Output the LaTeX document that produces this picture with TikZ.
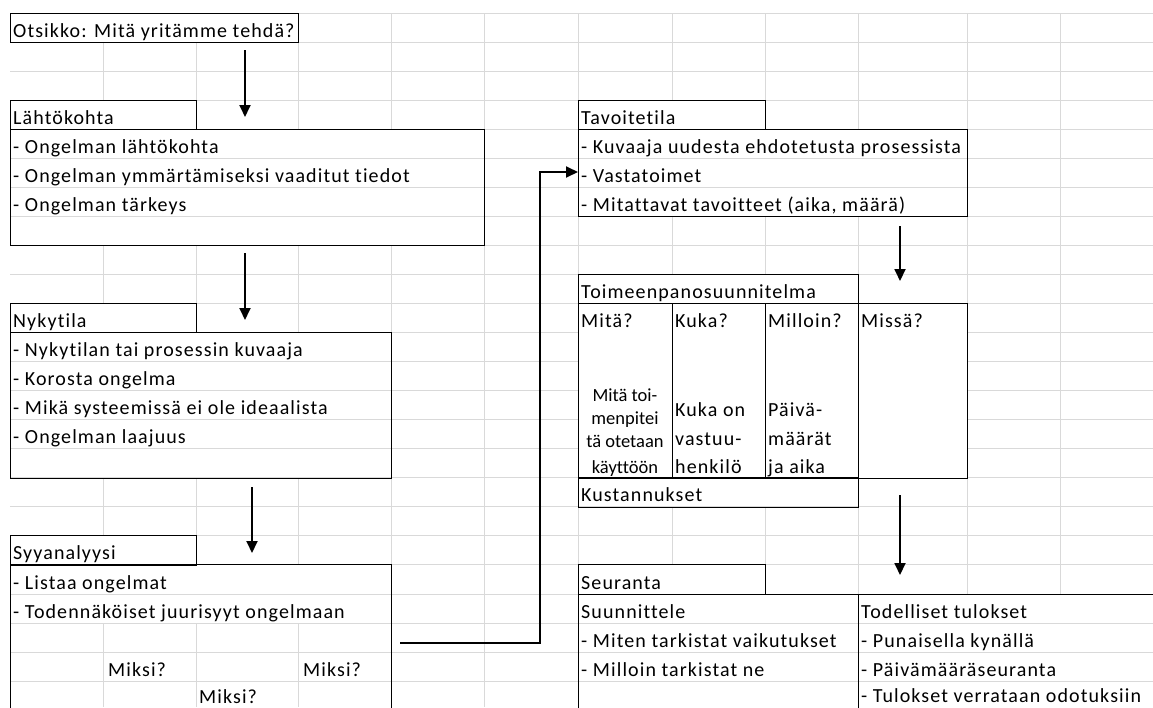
\documentclass[tikz,border=0pt]{standalone}
\usepackage{fontspec}
\setmainfont{Carlito}[Ligatures=NoCommon]
\newfontfamily\cellfont{Carlito}[LetterSpace=5.5, Ligatures=NoCommon]
\usetikzlibrary{arrows.meta, positioning, calc}

% y position of the i-th spreadsheet row line
\newcommand{\ry}[1]{13+29.05*#1}

\begin{document}
\begin{tikzpicture}[x=1pt, y=-1pt,
  grid/.style={draw=black!15, line width=1pt},
  cell/.style={fill=white, inner sep=0pt, anchor=north west,
               minimum height=29.05pt},
  edge/.style={draw=black, line width=1pt},
  txt/.style={anchor=base west, inner sep=0pt,
              font=\cellfont\fontsize{20}{24}\selectfont},
  narrow/.style={anchor=base, inner sep=0pt,
                 font=\fontsize{18.5}{22}\selectfont},
  flow/.style={-{Triangle[width=11pt,length=12pt]}, line width=1.8pt}
]
  \useasboundingbox[fill=white] (0,0) rectangle (1153,707);

  % Spreadsheet grid: columns
  \foreach \x in {103,196,298,391,484,578,672,765,858,967,1060,1153}
    \draw[grid] (\x,13) -- (\x,707);

  % Merged cells (hide the column lines)
  \node[cell, minimum width=288] (title) at (10,{\ry{0}}) {};
  \node[cell, minimum width=186] (lahtoh) at (10,{\ry{3}}) {};
  \node[cell, minimum width=474, minimum height=116.2] (lahto) at (10,{\ry{4}}) {};
  \node[cell, minimum width=186] (nykyh) at (10,{\ry{10}}) {};
  \node[cell, minimum width=381, minimum height=145.25] (nyky) at (10,{\ry{11}}) {};
  \node[cell, minimum width=186] (syyh) at (10,{\ry{18}}) {};
  \node[cell, minimum width=381, minimum height=58.1] (syytop) at (10,{\ry{19}}) {};
  \node[cell, fill=none, minimum width=381, minimum height=174.3] (syy) at (10,{\ry{19}}) {};
  \node[cell, minimum width=187] (tavoh) at (578,{\ry{3}}) {};
  \node[cell, minimum width=389, minimum height=87.15] (tavo) at (578,{\ry{4}}) {};
  \node[cell, minimum width=280] (toimh) at (578,{\ry{9}}) {};
  \node[cell, minimum width=280] (kust) at (578,{\ry{16}}) {};
  \node[cell, minimum width=187] (seurh) at (578,{\ry{19}}) {};
  \node[cell, minimum width=280, minimum height=145.25] (suun) at (578,{\ry{20}}) {};
  \node[cell, minimum width=295, minimum height=145.25] (todel) at (858,{\ry{20}}) {};

  % Spreadsheet grid: rows
  \foreach \i in {0,...,24}
    \draw[grid] (10,{\ry{\i}}) -- (1153,{\ry{\i}});

  % Plan table columns (hide the row lines)
  \node[cell, minimum width=94, minimum height=174.3] (mita) at (578,{\ry{10}}) {};
  \node[cell, minimum width=93, minimum height=174.3] (kuka) at (672,{\ry{10}}) {};
  \node[cell, minimum width=93, minimum height=174.3] (milloin) at (765,{\ry{10}}) {};
  \node[cell, minimum width=109, minimum height=174.3] (missa) at (858,{\ry{10}}) {};

  % Borders
  \foreach \b in {title,lahtoh,lahto,nykyh,nyky,syyh,syy,tavoh,tavo,toimh,
                  mita,kuka,milloin,missa,kust,seurh,suun,todel}
    \draw[edge] (\b.north west) rectangle (\b.south east);

  % Left column
  \node[txt] (t-title) at (13,{\ry{1}-5}) {Otsikko: Mitä yritämme tehdä?};
  \node[txt] (t-lahtoh) at (13,{\ry{4}-5}) {Lähtökohta};
  \foreach \t [count=\k from 5] in {- Ongelman lähtökohta,
      - Ongelman ymmärtämiseksi vaaditut tiedot, - Ongelman tärkeys}
    \node[txt] (t-lahto-\k) at (13,{\ry{\k}-5}) {\t};
  \node[txt] (t-nykyh) at (13,{\ry{11}-5}) {Nykytila};
  \foreach \t [count=\k from 12] in {- Nykytilan tai prosessin kuvaaja,
      - Korosta ongelma, - Mikä systeemissä ei ole ideaalista, - Ongelman laajuus}
    \node[txt] (t-nyky-\k) at (13,{\ry{\k}-5}) {\t};
  \node[txt] (t-syyh) at (13,{\ry{19}-5}) {Syyanalyysi};
  \foreach \t [count=\k from 20] in {- Listaa ongelmat,
      - Todennäköiset juurisyyt ongelmaan}
    \node[txt] (t-syy-\k) at (13,{\ry{\k}-5}) {\t};
  \node[txt] (miksi-1) at (108,{\ry{23}-5}) {Miksi?};
  \node[txt] (miksi-2) at (303,{\ry{23}-5}) {Miksi?};
  \node[txt] (miksi-3) at (199,703) {Miksi?};

  % Right column
  \node[txt] (t-tavoh) at (581,{\ry{4}-5}) {Tavoitetila};
  \foreach \t [count=\k from 5] in {- Kuvaaja uudesta ehdotetusta prosessista,
      - Vastatoimet, {- Mitattavat tavoitteet (aika, määrä)}}
    \node[txt] (t-tavo-\k) at (581,{\ry{\k}-5}) {\t};
  \node[txt] (t-toimh) at (581,{\ry{10}-5}) {Toimeenpanosuunnitelma};
  \node[txt] (t-mita) at (581,{\ry{11}-5}) {Mitä?};
  \node[txt] (t-kuka) at (675,{\ry{11}-5}) {Kuka?};
  \node[txt] (t-milloin) at (768,{\ry{11}-5}) {Milloin?};
  \node[txt] (t-missa) at (861,{\ry{11}-5}) {Missä?};
  \foreach \t/\y [count=\k] in {Mitä toi-/401, menpitei/424, tä otetaan/447, käyttöön/473}
    \node[narrow] (mita-\k) at (625,\y) {\t};
  \foreach \t/\y [count=\k] in {Kuka on/416, vastuu-/445, henkilö/473}
    \node[txt] (kuka-\k) at (675,\y) {\t};
  \foreach \t/\y [count=\k] in {Päivä-/416, määrät/445, ja aika/473}
    \node[txt] (milloin-\k) at (768,\y) {\t};
  \node[txt] (t-kust) at (581,{\ry{17}-5}) {Kustannukset};
  \node[txt] (t-seurh) at (581,{\ry{20}-5}) {Seuranta};
  \foreach \t [count=\k from 21] in {Suunnittele, - Miten tarkistat vaikutukset,
      - Milloin tarkistat ne}
    \node[txt] (suun-\k) at (581,{\ry{\k}-5}) {\t};
  \foreach \t/\y [count=\k from 21] in {Todelliset tulokset/{\ry{21}-5},
      - Punaisella kynällä/{\ry{22}-5}, - Päivämääräseuranta/{\ry{23}-5},
      - Tulokset verrataan odotuksiin/702}
    \node[txt] (todel-\k) at (861,\y) {\t};

  % Arrow ends
  \coordinate (a1s) at (245,50);   \coordinate (a1e) at (245,117);
  \coordinate (a2s) at (245,253);  \coordinate (a2e) at (245,320);
  \coordinate (a3s) at (252,487);  \coordinate (a3e) at (252,553);
  \coordinate (a4s) at (900,226);  \coordinate (a4e) at (900,281);
  \coordinate (a5s) at (900,495);  \coordinate (a5e) at (900,575);
  \coordinate (syyout) at (400,643);
  \coordinate (tavoin) at (578,172);

  \draw[flow] (a1s) -- (a1e);
  \draw[flow] (a2s) -- (a2e);
  \draw[flow] (a3s) -- (a3e);
  \draw[flow] (a4s) -- (a4e);
  \draw[flow] (a5s) -- (a5e);
  \draw[flow] (syyout) -| ([xshift=-38pt]tavoin) -- (tavoin);
\end{tikzpicture}
\end{document}
